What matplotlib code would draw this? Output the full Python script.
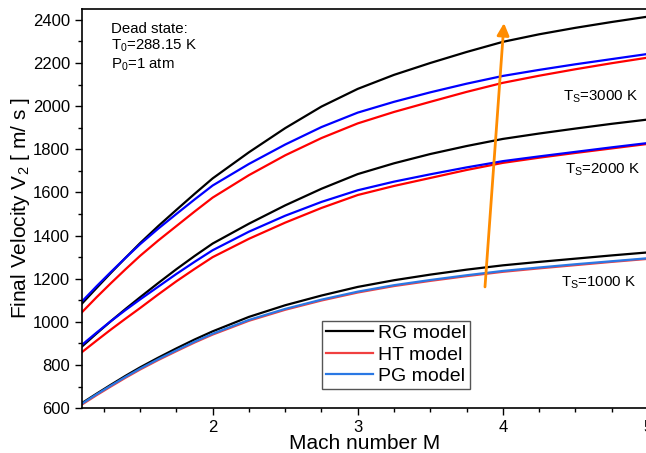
import numpy as np
import matplotlib
matplotlib.use("Agg")
import matplotlib.pyplot as plt
from matplotlib.ticker import MultipleLocator

plt.rcParams['font.family'] = ['Liberation Sans', 'DejaVu Sans']
plt.rcParams['mathtext.fontset'] = 'custom'
plt.rcParams['mathtext.rm'] = 'Liberation Sans'
plt.rcParams['mathtext.it'] = 'Liberation Sans:italic'

# Mach number grid the values were read at
mach = [1.1, 1.2, 1.3, 1.4, 1.5, 1.625, 1.75, 1.875, 2.0, 2.25, 2.5,
        2.75, 3.0, 3.25, 3.5, 3.75, 4.0, 4.25, 4.5, 4.75, 5.0]

# final velocity V2 [m/s], source temperature 3000 K
rg_3000 = [1085, 1157, 1228, 1297, 1365, 1444, 1519, 1593, 1665, 1786, 1898,
           1998, 2080, 2145, 2200, 2251, 2298, 2333, 2363, 2390, 2415]
ht_3000 = [1045, 1114, 1180, 1244, 1306, 1377, 1444, 1511, 1576, 1680, 1772,
           1852, 1920, 1973, 2020, 2066, 2108, 2141, 2171, 2199, 2225]
pg_3000 = [1095, 1165, 1232, 1297, 1360, 1432, 1500, 1567, 1632, 1732, 1822,
           1903, 1970, 2020, 2064, 2104, 2140, 2168, 2194, 2218, 2242]

# source temperature 2000 K
rg_2000 = [886, 946, 1004, 1060, 1114, 1180, 1244, 1305, 1363, 1455, 1540,
           1617, 1685, 1735, 1778, 1815, 1848, 1873, 1896, 1918, 1938]
ht_2000 = [860, 913, 965, 1015, 1064, 1127, 1188, 1245, 1300, 1385, 1460,
           1528, 1588, 1630, 1667, 1704, 1737, 1761, 1783, 1804, 1825]
pg_2000 = [894, 950, 1004, 1055, 1104, 1163, 1222, 1278, 1332, 1418, 1492,
           1556, 1610, 1650, 1684, 1716, 1745, 1767, 1788, 1809, 1829]

# source temperature 1000 K
rg_1000 = [624, 667, 709, 750, 789, 834, 877, 918, 956, 1023, 1077,
           1122, 1162, 1193, 1219, 1242, 1262, 1278, 1293, 1308, 1322]
ht_1000 = [617, 660, 701, 741, 779, 823, 864, 904, 941, 1005, 1056,
           1099, 1136, 1166, 1190, 1212, 1232, 1248, 1263, 1278, 1292]
pg_1000 = [621, 664, 705, 745, 783, 827, 868, 908, 945, 1009, 1060,
           1103, 1140, 1170, 1194, 1216, 1236, 1252, 1267, 1281, 1295]

ts_labels = ["T$_\\mathrm{S}$=3000 K", "T$_\\mathrm{S}$=2000 K", "T$_\\mathrm{S}$=1000 K"]

fig = plt.figure(figsize=(6.46, 4.53), dpi=100)
ax = fig.add_axes([0.127, 0.099, 0.876, 0.881])

lw = 1.6
# 3000 K and 2000 K curves
for rg, ht, pg in [(rg_3000, ht_3000, pg_3000), (rg_2000, ht_2000, pg_2000)]:
    ax.plot(mach, rg, color="black", lw=lw)
    ax.plot(mach, ht, color="#ff0000", lw=lw)
    ax.plot(mach, pg, color="#0000ff", lw=lw)

# 1000 K curves (these also make the legend)
ax.plot(mach, rg_1000, color="black", lw=lw, label="RG model")
ax.plot(mach, ht_1000, color="#f04040", lw=lw, label="HT model")
ax.plot(mach, pg_1000, color="#2a78e4", lw=lw, label="PG model")

ax.set_xlim(1.1, 5.0)
ax.set_ylim(600, 2450)
ax.xaxis.set_major_locator(MultipleLocator(1))
ax.xaxis.set_minor_locator(MultipleLocator(0.25))
ax.yaxis.set_major_locator(MultipleLocator(200))
ax.yaxis.set_minor_locator(MultipleLocator(100))
ax.tick_params(which="major", direction="out", length=5, width=1, labelsize=12)
ax.tick_params(which="minor", direction="out", length=3, width=1)
for s in ax.spines.values():
    s.set_linewidth(1.2)

ax.set_xlabel("Mach number M", fontsize=15, labelpad=-1)
ax.set_ylabel("Final Velocity V$_2$ [ m/ s ]", fontsize=15, labelpad=1)

leg = ax.legend(loc="lower left", bbox_to_anchor=(0.424, 0.048), fontsize=14,
                handlelength=2.4, fancybox=False, edgecolor="#555555",
                framealpha=1, borderpad=0.2, labelspacing=0.2,
                handletextpad=0.3, borderaxespad=0)
leg.get_frame().set_linewidth(1.0)

ax.text(1.3, 2392, "Dead state:\nT$_0$=288.15 K\nP$_0$=1 atm", fontsize=10.8,
        va="top", ha="left", linespacing=1.2)

ax.text(4.93, 2045, ts_labels[0], fontsize=10.8, ha="right", va="center")
ax.text(4.945, 1705, ts_labels[1], fontsize=10.8, ha="right", va="center")
ax.text(4.915, 1182, ts_labels[2], fontsize=10.8, ha="right", va="center")

ax.annotate("", xy=(4.008, 2385), xytext=(3.877, 1162),
            arrowprops=dict(arrowstyle="-|>", color="#ff8c00", lw=2,
                            mutation_scale=18, shrinkA=0, shrinkB=0))

fig.savefig("out.png", dpi=100)
